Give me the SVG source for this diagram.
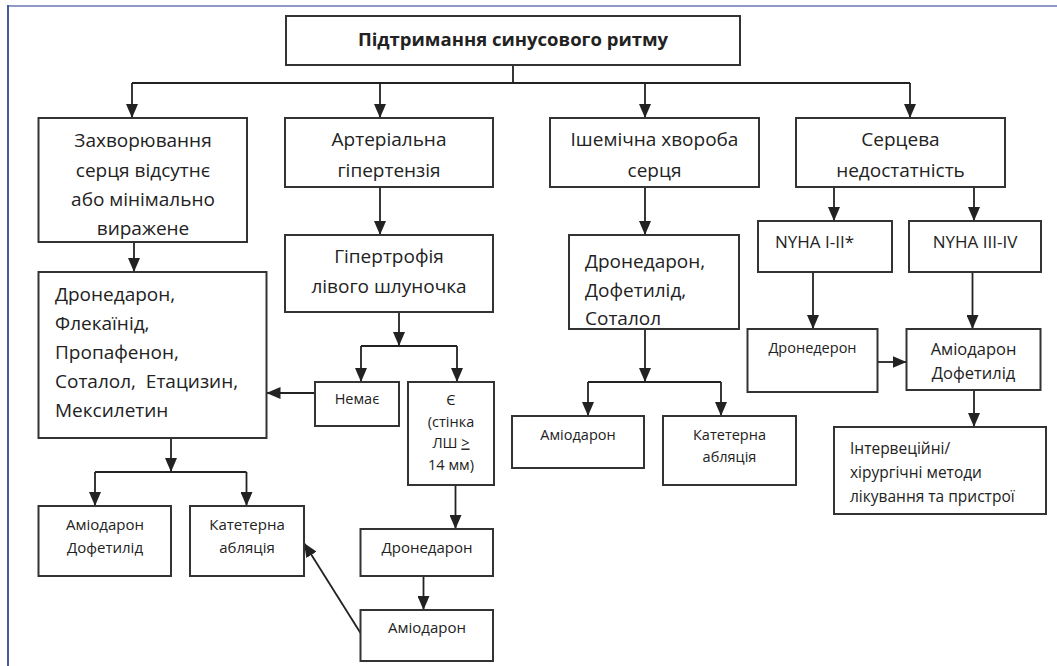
<svg xmlns="http://www.w3.org/2000/svg" width="1057" height="666" viewBox="0 0 1057 666">
<style>
.box{fill:#fff;stroke:#333;stroke-width:2}
.t{font-family:"Open Sans","DejaVu Sans",sans-serif;fill:#222}
.c{text-anchor:middle}
.big{font-size:19px}
.med{font-size:16.5px}
.sm{font-size:14.5px}
.ln{fill:none;stroke:#222;stroke-width:1.8}
.ar{marker-end:url(#ah)}
</style>
<defs>
<marker id="ah" viewBox="0 0 14 12" refX="14" refY="6" markerWidth="14" markerHeight="12" markerUnits="userSpaceOnUse" orient="auto"><path d="M0,0L14,6L0,12z" fill="#222"/></marker>
</defs>
<rect width="1057" height="666" fill="#fff"/>
<g id="frame">
<line x1="8" y1="6" x2="1057" y2="6" stroke="#9098c4" stroke-width="2"/>
<line x1="8" y1="5" x2="8" y2="666" stroke="#4a58a0" stroke-width="2"/>
</g>
<g id="connectors">
<path class="ln" d="M513,65V83M132,83H910"/>
<path class="ln ar" d="M132,83V118"/>
<path class="ln ar" d="M380,83V118"/>
<path class="ln ar" d="M645,83V118"/>
<path class="ln ar" d="M910,83V118"/>
<path class="ln ar" d="M134,242V272"/>
<path class="ln ar" d="M380,187V235"/>
<path class="ln ar" d="M399,312V346"/>
<path class="ln" d="M361,346H457"/>
<path class="ln ar" d="M361,346V382"/>
<path class="ln ar" d="M457,346V382"/>
<path class="ln ar" d="M315,393H266.5"/>
<path class="ln ar" d="M455.5,485V529"/>
<path class="ln ar" d="M423.5,576V610"/>
<path class="ln ar" d="M360.5,633L304,543"/>
<path class="ln ar" d="M171,438V472"/>
<path class="ln" d="M95,472H246.5"/>
<path class="ln ar" d="M95,472V506"/>
<path class="ln ar" d="M246.5,472V506"/>
<path class="ln ar" d="M645,187V235"/>
<path class="ln ar" d="M645,329V382"/>
<path class="ln" d="M588,382H721"/>
<path class="ln ar" d="M588,382V416"/>
<path class="ln ar" d="M721,382V416"/>
<path class="ln ar" d="M834,187V221"/>
<path class="ln ar" d="M974,187V221"/>
<path class="ln ar" d="M813,272V329"/>
<path class="ln ar" d="M972.5,272V329"/>
<path class="ln ar" d="M877.5,362H906.5"/>
<path class="ln ar" d="M974,390V427"/>
</g>
<g id="n-title"><rect class="box" x="286" y="16" width="454" height="49"/>
<text class="t c" x="513" y="46" font-size="18.5" font-weight="bold">Підтримання синусового ритму</text></g>
<g id="n-a"><rect class="box" x="38.5" y="118" width="208.5" height="124"/>
<text class="t c big"><tspan x="143" y="146.5">Захворювання</tspan><tspan x="143" y="176.5">серця відсутнє</tspan><tspan x="143" y="205.5">або мінімально</tspan><tspan x="143" y="234.5">виражене</tspan></text></g>
<g id="n-b"><rect class="box" x="285" y="118" width="208" height="69"/>
<text class="t c big"><tspan x="389" y="146">Артеріальна</tspan><tspan x="389" y="176.5">гіпертензія</tspan></text></g>
<g id="n-c"><rect class="box" x="550" y="118" width="209" height="69"/>
<text class="t c big"><tspan x="654.5" y="146">Ішемічна хвороба</tspan><tspan x="654.5" y="176.5">серця</tspan></text></g>
<g id="n-d"><rect class="box" x="796" y="118" width="209" height="69"/>
<text class="t c big"><tspan x="900.5" y="146">Серцева</tspan><tspan x="900.5" y="176.5">недостатність</tspan></text></g>
<g id="n-b2"><rect class="box" x="285" y="235" width="208" height="77"/>
<text class="t c big"><tspan x="389" y="262.5">Гіпертрофія</tspan><tspan x="389" y="292.5">лівого шлуночка</tspan></text></g>
<g id="n-a2"><rect class="box" x="38.5" y="272" width="228" height="166"/>
<text class="t big" xml:space="preserve"><tspan x="55" y="300.5">Дронедарон,</tspan><tspan x="55" y="330">Флекаїнід,</tspan><tspan x="55" y="359">Пропафенон,</tspan><tspan x="55" y="388">Соталол,  Етацизин,</tspan><tspan x="55" y="417">Мексилетин</tspan></text></g>
<g id="n-none"><rect class="box" x="315" y="382" width="84" height="44"/>
<text class="t c sm" x="357" y="404">Немає</text></g>
<g id="n-yes"><rect class="box" x="408" y="382" width="86" height="103"/>
<text class="t c sm"><tspan x="451" y="405">Є</tspan><tspan x="451" y="426.5">(стінка</tspan><tspan x="451" y="447.5">ЛШ <tspan text-decoration="underline">&gt;</tspan></tspan><tspan x="451" y="469.5">14 мм)</tspan></text></g>
<g id="n-c2"><rect class="box" x="569" y="235" width="170" height="94"/>
<text class="t big"><tspan x="585" y="267.5">Дронедарон,</tspan><tspan x="585" y="296.5">Дофетилід,</tspan><tspan x="585" y="324.5">Соталол</tspan></text></g>
<g id="n-nyha1"><rect class="box" x="758" y="221" width="134" height="51"/>
<text class="t" x="775" y="247.5" font-size="17">NYHA I-II*</text></g>
<g id="n-nyha2"><rect class="box" x="909" y="221" width="132" height="51"/>
<text class="t c" x="975" y="247.5" font-size="17">NYHA III-IV</text></g>
<g id="n-dron-d"><rect class="box" x="747.5" y="329" width="130" height="63"/>
<text class="t c sm" x="812.5" y="352.5">Дронедерон</text></g>
<g id="n-ad-d"><rect class="box" x="906.5" y="329" width="134" height="61"/>
<text class="t c med"><tspan x="973.5" y="355">Аміодарон</tspan><tspan x="973.5" y="379">Дофетилід</tspan></text></g>
<g id="n-int"><rect class="box" x="834" y="427" width="212" height="87"/>
<text class="t" font-size="15.5"><tspan x="850" y="454">Інтервеційні/</tspan><tspan x="850" y="478">хірургічні методи</tspan><tspan x="850" y="502">лікування та пристрої</tspan></text></g>
<g id="n-c3"><rect class="box" x="512" y="416" width="132" height="52"/>
<text class="t c sm" x="578" y="440">Аміодарон</text></g>
<g id="n-c4"><rect class="box" x="663" y="416" width="133" height="69"/>
<text class="t c sm"><tspan x="729.5" y="440">Катетерна</tspan><tspan x="729.5" y="461.5">абляція</tspan></text></g>
<g id="n-a3"><rect class="box" x="38.5" y="506" width="132.5" height="70"/>
<text class="t c" font-size="15"><tspan x="105" y="530">Аміодарон</tspan><tspan x="105" y="552.5">Дофетилід</tspan></text></g>
<g id="n-a4"><rect class="box" x="190" y="506" width="114" height="70"/>
<text class="t c" font-size="15"><tspan x="247" y="530">Катетерна</tspan><tspan x="247" y="552.5">абляція</tspan></text></g>
<g id="n-dron-b"><rect class="box" x="360.5" y="529" width="132.5" height="47"/>
<text class="t c" font-size="15" x="427" y="552.5">Дронедарон</text></g>
<g id="n-amio-b"><rect class="box" x="360.5" y="610" width="132.5" height="51"/>
<text class="t c" font-size="15" x="427" y="633">Аміодарон</text></g>
</svg>
